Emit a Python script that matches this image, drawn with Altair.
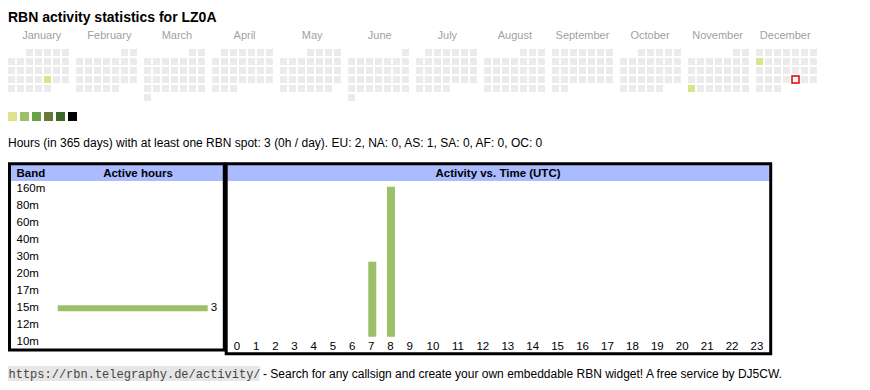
import datetime as dt
import altair as alt
import pandas as pd

# ---------------- data ----------------
TITLE = "RBN activity statistics for LZ0A"
YEAR = 2025
MONTHS = ["January", "February", "March", "April", "May", "June", "July",
          "August", "September", "October", "November", "December"]
ACTIVE_DAY_DATES = ["2025-01-24", "2025-11-24", "2025-12-08"]
ACTIVE_DAY_LEVELS = [1, 1, 1]
TODAY = "2025-12-26"
LEVELS = [1, 2, 3, 4, 5, 6]
LEVEL_COLORS = ["#dde38a", "#9cc069", "#68a146", "#66793a", "#3b6a28", "#000000"]
EMPTY_COLOR = "#ebebeb"
STATS_TEXT = ("Hours (in 365 days) with at least one RBN spot: 3 (0h / day). "
              "EU: 2, NA: 0, AS: 1, SA: 0, AF: 0, OC: 0")
BANDS = ["160m", "80m", "60m", "40m", "30m", "20m", "17m", "15m", "12m", "10m"]
BAND_HOURS = [0, 0, 0, 0, 0, 0, 0, 3, 0, 0]
HOURS = list(range(24))
HOUR_ACTIVITY = [0, 0, 0, 0, 0, 0, 0, 1, 2, 0, 0, 0,
                 0, 0, 0, 0, 0, 0, 0, 0, 0, 0, 0, 0]
FOOTER_URL = "https://rbn.telegraphy.de/activity/"
FOOTER_TEXT = "- Search for any callsign and create your own embeddable RBN widget! A free service by DJ5CW."

# ---------------- tables ----------------
active = dict(zip(ACTIVE_DAY_DATES, ACTIVE_DAY_LEVELS))
rows = []
d = dt.date(YEAR, 1, 1)
while d.year == YEAR:
    first = dt.date(YEAR, d.month, 1).weekday()
    iso = d.isoformat()
    rows.append({
        "date": iso,
        "month": MONTHS[d.month - 1],
        "dow": d.weekday(),
        "week": (d.day - 1 + first) // 7,
        "level": active.get(iso, 0),
        "today": iso == TODAY,
    })
    d += dt.timedelta(days=1)
cal = pd.DataFrame(rows)
months_df = pd.DataFrame({"month": MONTHS})
legend_df = pd.DataFrame({"level": LEVELS})
band_df = pd.DataFrame({"band": BANDS, "hours": BAND_HOURS})
hour_df = pd.DataFrame({"hour": HOURS, "count": HOUR_ACTIVITY, "label": [str(h) for h in HOURS]})
one = pd.DataFrame({"k": [0]})

FONT = "Liberation Sans"
GREEN = LEVEL_COLORS[1]
BLUE = "#aabbff"

# ---------------- scales ----------------
month_x = alt.Scale(domain=MONTHS, range=[0, 811], paddingInner=5 / 68, paddingOuter=0)
dow_x = alt.Scale(domain=list(range(7)), range=[0, 61], paddingInner=2 / 9, paddingOuter=0)
week_y = alt.Scale(domain=list(range(6)), range=[41, 93], paddingInner=2 / 9, paddingOuter=0)
level_color = alt.Scale(domain=[0] + LEVELS, range=[EMPTY_COLOR] + LEVEL_COLORS)
band_y = alt.Scale(domain=BANDS, range=[172.8, 342.8], paddingInner=0, paddingOuter=0)
band_x = alt.Scale(domain=[0, 3], range=[49.7, 199.7], nice=False, zero=False)
hour_x = alt.Scale(domain=[0, 9, 10, 23], range=[229, 401.7, 425, 749], nice=False, zero=False)
count_y = alt.Scale(domain=[0, 2], range=[328.7, 178.7], nice=False)

# ---------------- layers ----------------
title = alt.Chart(one).mark_text(text=TITLE, align="left", baseline="alphabetic",
                                 font=FONT, fontSize=14, fontWeight="bold", color="black"
                                 ).encode(x=alt.value(0), y=alt.value(13.5))

month_labels = alt.Chart(months_df).mark_text(baseline="alphabetic", font=FONT, fontSize=11,
                                              color="#9f9f9f").encode(
    x=alt.X("month:N", scale=month_x, axis=None),
    y=alt.value(31),
    text="month:N",
)

cells = alt.Chart(cal).mark_rect().encode(
    x=alt.X("month:N", scale=month_x, axis=None),
    xOffset=alt.XOffset("dow:O", scale=dow_x),
    y=alt.Y("week:O", scale=week_y, axis=None),
    color=alt.Color("level:O", scale=level_color, legend=None),
)

today = alt.Chart(cal).transform_filter("datum.today").mark_rect(
    fill="white", stroke="#e00000", strokeWidth=1.5).encode(
    x=alt.X("month:N", scale=month_x, axis=None),
    xOffset=alt.XOffset("dow:O", scale=dow_x),
    y=alt.Y("week:O", scale=week_y, axis=None),
)

legend = alt.Chart(legend_df).mark_rect().encode(
    x=alt.X("level:O", scale=alt.Scale(domain=LEVELS, range=[0, 69], paddingInner=0.25, paddingOuter=0), axis=None),
    y=alt.value(104), y2=alt.value(113),
    color=alt.Color("level:O", scale=level_color, legend=None),
)

stats = alt.Chart(one).mark_text(text=STATS_TEXT, align="left", baseline="alphabetic",
                                 font=FONT, fontSize=12, color="black"
                                 ).encode(x=alt.value(0), y=alt.value(138.5))

hdr_left = alt.Chart(one).mark_rect(color=BLUE).encode(
    x=alt.value(2.5), x2=alt.value(215), y=alt.value(157), y2=alt.value(173))
hdr_right = alt.Chart(one).mark_rect(color=BLUE).encode(
    x=alt.value(219), x2=alt.value(761), y=alt.value(157), y2=alt.value(173))
box_left = alt.Chart(one).mark_rect(fillOpacity=0, stroke="black", strokeWidth=3).encode(
    x=alt.value(1.5), x2=alt.value(216.3), y=alt.value(155.7), y2=alt.value(342))
box_right = alt.Chart(one).mark_rect(fillOpacity=0, stroke="black", strokeWidth=3).encode(
    x=alt.value(218.2), x2=alt.value(762.7), y=alt.value(155.7), y2=alt.value(345.7))

hdr_band = alt.Chart(one).mark_text(text="Band", align="left", baseline="alphabetic", font=FONT,
                                    fontSize=11.5, fontWeight="bold").encode(
    x=alt.value(8.5), y=alt.value(168.7))
hdr_active = alt.Chart(one).mark_text(text="Active hours", align="center", baseline="alphabetic", font=FONT,
                                      fontSize=11.5, fontWeight="bold").encode(
    x=alt.value(130), y=alt.value(168.7))
hdr_time = alt.Chart(one).mark_text(text="Activity vs. Time (UTC)", align="center", baseline="alphabetic",
                                    font=FONT, fontSize=11.5, fontWeight="bold").encode(
    x=alt.value(490), y=alt.value(168.7))

band_labels = alt.Chart(band_df).mark_text(align="left", baseline="middle", font=FONT, fontSize=11.5,
                                           color="black").encode(
    y=alt.Y("band:N", scale=band_y, axis=None),
    x=alt.value(8.5),
    text="band:N",
)
band_bars = alt.Chart(band_df).transform_filter("datum.hours > 0").mark_bar(size=6, color=GREEN).encode(
    y=alt.Y("band:N", scale=band_y, axis=None),
    x=alt.X("hours:Q", scale=band_x, axis=None),
)
band_values = alt.Chart(band_df).transform_filter("datum.hours > 0").mark_text(
    align="left", baseline="middle", dx=3, font=FONT, fontSize=11.5, color="black").encode(
    y=alt.Y("band:N", scale=band_y, axis=None),
    x=alt.X("hours:Q", scale=band_x, axis=None),
    text="hours:Q",
)

hour_bars = alt.Chart(hour_df).transform_filter("datum.count > 0").mark_bar(size=8, color=GREEN).encode(
    x=alt.X("hour:Q", scale=hour_x, axis=None),
    y=alt.Y("count:Q", scale=count_y, axis=None),
)
hour_labels = alt.Chart(hour_df).mark_text(baseline="alphabetic", font=FONT, fontSize=11.5,
                                           color="black").encode(
    x=alt.X("hour:Q", scale=hour_x, axis=None),
    y=alt.value(342),
    text="label:N",
)

footer_bg = alt.Chart(one).mark_rect(color="#e6e6e6").encode(
    x=alt.value(0), x2=alt.value(251.5), y=alt.value(358), y2=alt.value(373))
footer_url = alt.Chart(one).mark_text(text=FOOTER_URL, align="left", baseline="alphabetic",
                                      font="Liberation Mono", fontSize=12, color="#444444").encode(
    x=alt.value(0.5), y=alt.value(369.5))
footer_text = alt.Chart(one).mark_text(text=FOOTER_TEXT, align="left", baseline="alphabetic",
                                       font=FONT, fontSize=12, color="black").encode(
    x=alt.value(255), y=alt.value(369.5))

chart = alt.layer(
    title, month_labels, cells, today, legend, stats,
    hdr_left, hdr_right,
    band_labels, band_bars, band_values, hour_bars, hour_labels,
    box_left, box_right, hdr_band, hdr_active, hdr_time,
    footer_bg, footer_url, footer_text,
).resolve_scale(
    x="independent", y="independent", color="independent", xOffset="independent"
).properties(
    width=854, height=374, autosize=alt.AutoSizeParams(type="none"), padding=0,
    background="white",
).configure_view(strokeWidth=0)

chart.save("out.html", embed_options={"renderer": "svg", "actions": False})
